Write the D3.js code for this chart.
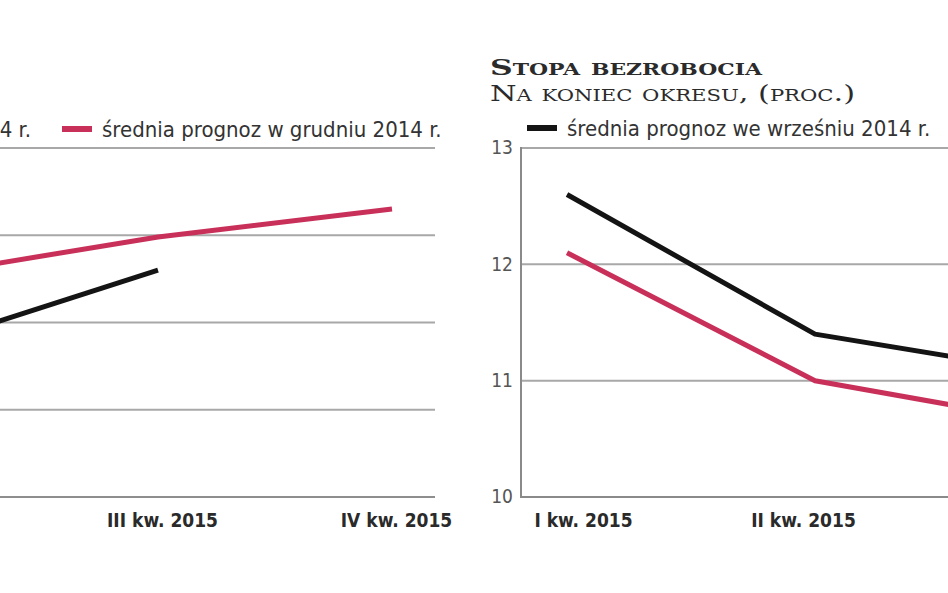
<!DOCTYPE html>
<html><head><meta charset="utf-8">
<script src="https://cdn.jsdelivr.net/npm/d3@7/dist/d3.min.js"></script>
<style>
html,body{margin:0;padding:0;background:#fff;}
svg{display:block;}
</style></head>
<body><svg id="c" width="948" height="593"></svg>
<script>
// ---- data ----
const quarters = ["I kw. 2015", "II kw. 2015", "III kw. 2015", "IV kw. 2015"];
const seriesNames = ["średnia prognoz we wrześniu 2014 r.", "średnia prognoz w grudniu 2014 r."];
// left panel (partly cut off in the reference)
const leftSept = [null, 2.87, 3.30, null];
const leftDec  = [null, 3.27, 3.49, 3.65];
const leftTicks = [2, 2.5, 3, 3.5, 4];
// right panel: unemployment rate
const rightTitle = "Stopa bezrobocia";
const rightSubtitle = "Na koniec okresu, (proc.)";
const rightSept = [12.6, 11.4, 11.05, null];
const rightDec  = [12.1, 11.0, 10.62, null];
const rightTicks = [10, 11, 12, 13];

const colors = ["#141414", "#c8305a"];
const sansFont = "'DejaVu Sans Condensed','Liberation Sans Narrow','Roboto',sans-serif";
const serifFont = "'DejaVu Serif','Liberation Serif',serif";

const svg = d3.select("#c");
const W = 948;

function drawLine(g, x, y, vals, color) {
  const line = d3.line()
    .defined(d => d.v !== null)
    .x(d => x(d.q)).y(d => y(d.v));
  g.append("path")
    .datum(quarters.map((q, i) => ({q, v: vals[i]})))
    .attr("fill", "none").attr("stroke", color)
    .attr("stroke-width", 5).attr("stroke-linejoin", "round")
    .attr("d", line);
}

// ---------- left panel ----------
{
  const g = svg.append("g");
  const x = d3.scalePoint().domain(quarters).range([-310, 392]);
  const y = d3.scaleLinear().domain([2, 4]).range([497, 148]);
  g.selectAll("line.grid").data(leftTicks).join("line")
    .attr("x1", -340).attr("x2", 435)
    .attr("y1", d => y(d)).attr("y2", d => y(d))
    .attr("stroke", d => d === 2 ? "#8e8e8e" : "#a8a8a8")
    .attr("stroke-width", 2);
  const xa = d3.axisBottom(x).tickSize(0).tickPadding(0)
    .tickValues(quarters.filter(q => x(q) > 0 && x(q) < W));
  const ax = g.append("g").attr("transform", `translate(0,${y(2)})`).call(xa);
  ax.select(".domain").remove();
  ax.selectAll("text").attr("dy", 0).attr("y", 30)
    .attr("font-family", sansFont).attr("font-size", 19).attr("font-weight", "bold")
    .attr("fill", "#2a2a2a").attr("dx", 4);
  drawLine(g, x, y, leftSept, colors[0]);
  drawLine(g, x, y, leftDec, colors[1]);
  // legend
  g.append("text").attr("x", 31).attr("y", 137).attr("text-anchor", "end")
    .attr("font-family", sansFont).attr("font-size", 22).attr("fill", "#333")
    .text(seriesNames[0]);
  g.append("line").attr("x1", 62).attr("x2", 92).attr("y1", 129).attr("y2", 129)
    .attr("stroke", colors[1]).attr("stroke-width", 6);
  g.append("text").attr("x", 102).attr("y", 137)
    .attr("font-family", sansFont).attr("font-size", 22).attr("fill", "#333")
    .text(seriesNames[1]);
}

// ---------- right panel ----------
{
  const g = svg.append("g");
  const x = d3.scalePoint().domain(quarters).range([567, 567 + 3 * 248]);
  const xLab = d3.scalePoint().domain(quarters).range([583, 583 + 3 * 220]);
  const y = d3.scaleLinear().domain([10, 13]).range([497, 148]);
  const x0 = 521;
  g.selectAll("line.grid").data(rightTicks.filter(t => t !== 10)).join("line")
    .attr("x1", x0).attr("x2", 1000)
    .attr("y1", d => y(d)).attr("y2", d => y(d))
    .attr("stroke", "#a8a8a8").attr("stroke-width", 2);
  g.append("line").attr("x1", x0).attr("x2", 1000).attr("y1", y(10)).attr("y2", y(10))
    .attr("stroke", "#8a8a8a").attr("stroke-width", 2);
  g.append("line").attr("x1", x0).attr("x2", x0).attr("y1", y(13) - 1).attr("y2", y(10) + 1)
    .attr("stroke", "#8a8a8a").attr("stroke-width", 2);
  const ya = d3.axisLeft(y).tickValues(rightTicks).tickSize(0).tickPadding(0).tickFormat(d3.format("d"));
  const ay = g.append("g").attr("transform", `translate(${x0 - 8},0)`).call(ya);
  ay.select(".domain").remove();
  ay.selectAll("text").attr("dy", "0.3em")
    .attr("font-family", sansFont).attr("font-size", 19)
    .attr("fill", "#555");
  const xa = d3.axisBottom(xLab).tickSize(0).tickPadding(0)
    .tickValues(quarters.filter(q => xLab(q) > 0 && xLab(q) < W - 60));
  const ax = g.append("g").attr("transform", `translate(0,${y(10)})`).call(xa);
  ax.select(".domain").remove();
  ax.selectAll("text").attr("dy", 0).attr("y", 30)
    .attr("font-family", sansFont).attr("font-size", 19).attr("font-weight", "bold")
    .attr("fill", "#2a2a2a");
  drawLine(g, x, y, rightSept, colors[0]);
  drawLine(g, x, y, rightDec, colors[1]);
  // titles
  g.append("text").attr("x", 490).attr("y", 75)
    .attr("font-family", serifFont).attr("font-size", 23).attr("font-weight", "bold")
    .style("font-variant", "small-caps").attr("fill", "#2b2b2b")
    .attr("textLength", 272).attr("lengthAdjust", "spacingAndGlyphs")
    .text(rightTitle);
  g.append("text").attr("x", 490).attr("y", 101)
    .attr("font-family", serifFont).attr("font-size", 23)
    .style("font-variant", "small-caps").attr("fill", "#2b2b2b")
    .attr("textLength", 365).attr("lengthAdjust", "spacingAndGlyphs")
    .text(rightSubtitle);
  // legend
  g.append("line").attr("x1", 527).attr("x2", 557).attr("y1", 128).attr("y2", 128)
    .attr("stroke", colors[0]).attr("stroke-width", 6);
  g.append("text").attr("x", 567).attr("y", 136)
    .attr("font-family", sansFont).attr("font-size", 22).attr("fill", "#333")
    .text(seriesNames[0]);
}
</script></body></html>
